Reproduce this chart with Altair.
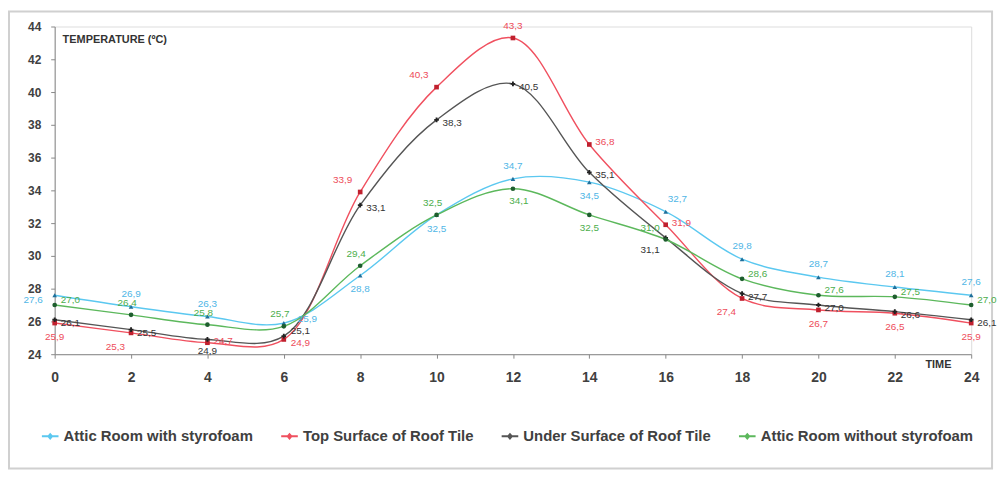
import altair as alt
import pandas as pd

hours = [0, 2, 4, 6, 8, 10, 12, 14, 16, 18, 20, 22, 24]
series = ["Attic Room with styrofoam", "Top Surface of Roof Tile",
          "Under Surface of Roof Tile", "Attic Room without styrofoam"]
attic_with = [27.6, 26.9, 26.3, 25.9, 28.8, 32.5, 34.7, 34.5, 32.7, 29.8, 28.7, 28.1, 27.6]
top_surface = [25.9, 25.3, 24.7, 24.9, 33.9, 40.3, 43.3, 36.8, 31.9, 27.4, 26.7, 26.5, 25.9]
under_surface = [26.1, 25.5, 24.9, 25.1, 33.1, 38.3, 40.5, 35.1, 31.1, 27.7, 27.0, 26.6, 26.1]
attic_without = [27.0, 26.4, 25.8, 25.7, 29.4, 32.5, 34.1, 32.5, 31.0, 28.6, 27.6, 27.5, 27.0]

line_colors = ["#5bc8f0", "#f0505f", "#555555", "#5cb85c"]
dot_colors = ["#1f6f9a", "#c0202e", "#222222", "#1e5e2e"]
shapes = ["triangle-up", "square", "cross", "circle"]

rows = []
for name, vals in zip(series, [attic_with, top_surface, under_surface, attic_without]):
    for h, v in zip(hours, vals):
        rows.append({"time": h, "temp": v, "series": name})
df = pd.DataFrame(rows)

FONT = "Liberation Sans"
W, H = 923, 330

xs = alt.X("time:Q", scale=alt.Scale(domain=[0, 24], nice=False),
           axis=alt.Axis(values=hours, title=None, grid=False, labelFontSize=14,
                         labelFontWeight="bold", labelColor="#404040", labelPadding=12,
                         domainColor="#888888", tickColor="#888888", tickSize=4,
                         labelFont=FONT, labelFlush=False))
ys = alt.Y("temp:Q", scale=alt.Scale(domain=[24, 44], nice=False, zero=False),
           axis=alt.Axis(values=list(range(24, 45, 2)), title=None, grid=False,
                         labelFontSize=12, labelFontWeight="bold", labelColor="#404040",
                         labelPadding=10, domainColor="#888888", tickColor="#888888",
                         tickSize=4, labelFont=FONT, labelFlush=False))

legend_symbol = "M-1,0L1,0 M-0.22,0L0,-0.25L0.22,0L0,0.25Z"

base = alt.Chart(df)

lines = base.mark_line(interpolate="catmull-rom", strokeWidth=1.4, clip=False).encode(
    x=xs, y=ys,
    color=alt.Color("series:N", sort=series,
                    scale=alt.Scale(domain=series, range=line_colors),
                    legend=alt.Legend(title=None, orient="none", direction="horizontal",
                                      legendX=-14, legendY=403, symbolType=legend_symbol,
                                      symbolSize=280, symbolStrokeWidth=2,
                                      labelFontSize=15, labelFontWeight="bold",
                                      labelColor="#404040", labelFont=FONT,
                                      columnPadding=24, labelLimit=300, labelOffset=4)),
    detail="series:N",
)

point_layers = [
    alt.Chart(df).transform_filter(alt.datum.series == name).mark_point(
        filled=True, size=22, opacity=1, color=col, shape=shp).encode(x=xs, y=ys)
    for name, col, shp in zip(series, dot_colors, shapes)
]


def labels(name, color, cond, dx, dy, align="center"):
    return alt.Chart(df).transform_filter(
        alt.datum.series == name
    ).transform_filter(cond).transform_calculate(
        lab="replace(format(datum.temp, '.1f'), '.', ',')"
    ).mark_text(dx=dx, dy=dy, fontSize=10, color=color, font=FONT, align=align).encode(
        x=xs, y=ys, text="lab:N")


lab_layers = [
    # blue
    labels(series[0], "#4fb6e6", "datum.time == 0", -12, 5, "right"),
    labels(series[0], "#4fb6e6", "indexof([8,10,14], datum.time) >= 0", 0, 14),
    labels(series[0], "#4fb6e6", "datum.time == 6", 14, -4, "left"),
    labels(series[0], "#4fb6e6", "indexof([2,4,12,18,20,22,24], datum.time) >= 0", 0, -13),
    labels(series[0], "#4fb6e6", "datum.time == 16", 2, -13, "left"),
    # red
    labels(series[1], "#ee4c5a", "indexof([8,10], datum.time) >= 0", -8, -12, "right"),
    labels(series[1], "#ee4c5a", "datum.time == 12", 0, -12),
    labels(series[1], "#ee4c5a", "indexof([4,14,16], datum.time) >= 0", 6, -2, "left"),
    labels(series[1], "#ee4c5a", "datum.time == 6", 7, 4, "left"),
    labels(series[1], "#ee4c5a", "indexof([0,20,22,24], datum.time) >= 0", 0, 14),
    labels(series[1], "#ee4c5a", "indexof([2,18], datum.time) >= 0", -6, 14, "right"),
    # black
    labels(series[2], "#333333", "indexof([4,6,16], datum.time) < 0", 6, 3, "left"),
    labels(series[2], "#333333", "datum.time == 6", 7, -5, "left"),
    labels(series[2], "#333333", "datum.time == 16", -6, 12, "right"),
    labels(series[2], "#333333", "datum.time == 4", 0, 12),
    # green
    labels(series[3], "#4cae4c", "indexof([0,18,20,22,24], datum.time) >= 0", 6, -5, "left"),
    labels(series[3], "#4cae4c", "indexof([2,4,6,8,10], datum.time) >= 0", -4, -12),
    labels(series[3], "#4cae4c", "datum.time == 12", 6, 12),
    labels(series[3], "#4cae4c", "datum.time == 14", 0, 13),
    labels(series[3], "#4cae4c", "datum.time == 16", -6, -12, "right"),
]

anchor = pd.DataFrame({"k": [0]})
frame = alt.Chart(anchor).mark_rect(fill=None, stroke="#d0d0d0", strokeWidth=2).encode(
    x=alt.value(-46), x2=alt.value(944), y=alt.value(-15), y2=alt.value(445))

ytitle = alt.Chart(anchor).mark_text(text="TEMPERATURE (ºC)", align="left", fontSize=11,
                                     fontWeight="bold", color="#333333", font=FONT).encode(
    x=alt.value(8), y=alt.value(14))
xtitle = alt.Chart(anchor).mark_text(text="TIME", align="center", fontSize=11,
                                     fontWeight="bold", color="#333333", font=FONT).encode(
    x=alt.value(890), y=alt.value(11 + H))

chart = alt.layer(frame, lines, *point_layers, *lab_layers, ytitle, xtitle).properties(
    width=W, height=H,
    autosize=alt.AutoSizeParams(type="none"),
    padding={"left": 47, "top": 17, "right": 28, "bottom": 117},
).configure_view(stroke=None).configure(background="white")

chart.save("out.html", embed_options={"renderer": "svg", "actions": False})
